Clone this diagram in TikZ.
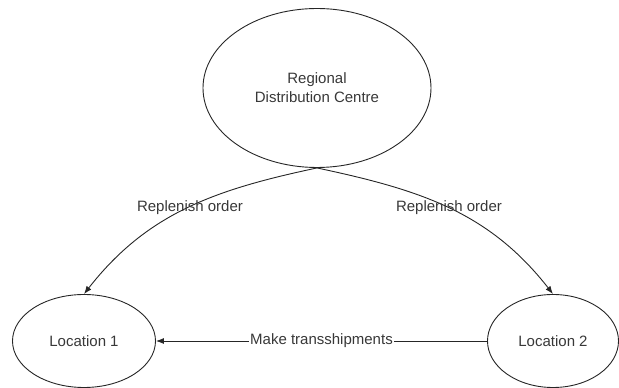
\documentclass[tikz,border=0pt]{standalone}
\usepackage{fontspec}
\setmainfont{Liberation Sans}
\usetikzlibrary{shapes.geometric,arrows.meta}
\begin{document}
\begin{tikzpicture}[x=1pt,y=1pt,
  ell/.style={ellipse,draw=black!85,line width=0.9pt,inner sep=0pt,text=black!78,
    font=\fontsize{15}{19}\selectfont,align=center},
  lbl/.style={text=black!78,font=\fontsize{15}{19}\selectfont,inner sep=1pt},
  conn/.style={draw=black!85,line width=0.9pt,-{Latex[length=8pt,width=6pt]}}]
\useasboundingbox (0,0) rectangle (619,388);
\node[ell,minimum width=228,minimum height=159] (top) at (317,300) {Regional\\Distribution Centre};
\node[ell,minimum width=143,minimum height=93] (loc1) at (84,47) {Location 1};
\node[ell,minimum width=131,minimum height=93] (loc2) at (553,47) {Location 2};
\draw[conn] (top.south) to[out=192,in=52] (loc1.north);
\draw[conn] (top.south) to[out=-12,in=128] (loc2.north);
\node[lbl] (lblL) at (190,180) {Replenish order};
\node[lbl] (lblR) at (449,180) {Replenish order};
\draw[conn] (loc2.west) -- node[lbl,fill=white] (lblM) {Make transshipments} (loc1.east);
\end{tikzpicture}
\end{document}
